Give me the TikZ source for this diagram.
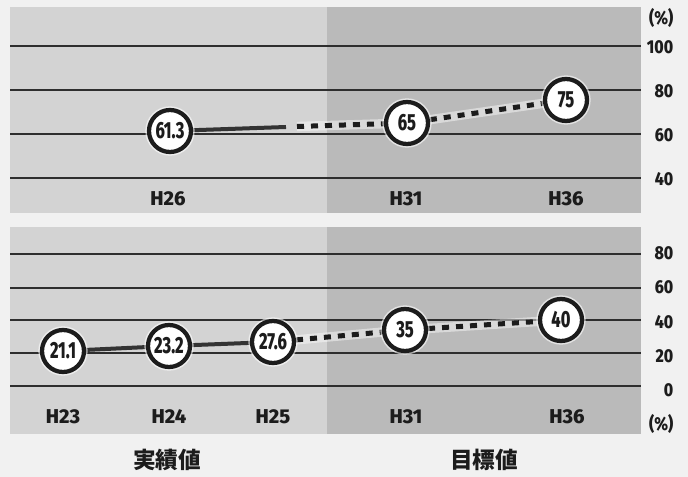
\documentclass[tikz,border=0pt]{standalone}
\usepackage{fontspec}
\setmainfont{Fira Sans}[BoldFont={Fira Sans ExtraBold}]
\newfontfamily\cond{Fira Sans ExtraBold}[FakeStretch=0.7]
\newfontfamily\semicond{Fira Sans ExtraBold}[FakeStretch=0.85]
\newfontfamily\jp{Noto Sans CJK JP}
\definecolor{pagebg}{HTML}{F1F1F1}
\definecolor{lightpanel}{HTML}{D3D3D3}
\definecolor{darkpanel}{HTML}{BABABA}
\definecolor{ink}{HTML}{1C1C1C}
\definecolor{gridc}{HTML}{2E2E2E}
\pgfdeclarelayer{bg}
\pgfdeclarelayer{lines}
\pgfsetlayers{bg,lines,main}
\tikzset{
  val/.style={circle, draw=ink, fill=white, line width=3.2pt, minimum size=31.5pt, inner sep=0pt,
    font=\cond\fontsize{17.5}{17.5}\selectfont, text=ink,
    preaction={draw=white, line width=5.5pt, draw opacity=0.6}},
  yearlab/.style={font=\bfseries\fontsize{15}{15}\selectfont, text=ink},
  axlab/.style={anchor=east, font=\semicond\fontsize{14}{14}\selectfont, text=ink},
  jplab/.style={font=\jp\bfseries\fontsize{17}{17}\selectfont, text=ink},
  gridline/.style={draw=gridc, line width=0.9pt},
  solidcon/.style={draw=ink!90, line width=3pt},
  dashcon/.style={draw=ink, line width=3.75pt, dash pattern=on 5.25pt off 5.25pt,
    preaction={draw=white, line width=7pt, draw opacity=0.45, solid}},
}
\begin{document}
\begin{tikzpicture}[x=0.75pt, y=-0.75pt]
\useasboundingbox (0,0) rectangle (688,477);
\begin{pgfonlayer}{bg}
  \fill[pagebg] (0,0) rectangle (688,477);
  \fill[lightpanel] (10,7) rectangle (327,213);
  \fill[darkpanel] (327,7) rectangle (641,213);
  \fill[lightpanel] (10,227) rectangle (327,434);
  \fill[darkpanel] (327,227) rectangle (641,434);
  \foreach \yy in {46,90,134,178} \draw[gridline] (10,\yy) -- (641,\yy);
  \foreach \yy in {254,288,320,353,386} \draw[gridline] (10,\yy) -- (641,\yy);
\end{pgfonlayer}

% top chart
\node[val] (t613) at (170,131) {61.3};
\node[val] (t65) at (407,123) {65};
\node[val] (t75) at (566,100) {75};
\coordinate (ts1) at (286,127);
\coordinate (ts2) at (297,126.5);
\node[yearlab] (lH26) at (168,199) {H26};
\node[yearlab] (lH31a) at (406,199) {H31};
\node[yearlab] (lH36a) at (566,199) {H36};

% top axis
\node[axlab] (ap1) at (678,18) {(\%)};
\node[axlab] (a100) at (678,47) {100};
\node[axlab] (a80) at (678,91) {80};
\node[axlab] (a60) at (678,135) {60};
\node[axlab] (a40) at (678,179) {40};

% bottom chart
\node[val] (b211) at (63,351) {21.1};
\node[val] (b232) at (169,346) {23.2};
\node[val] (b276) at (273,342) {27.6};
\node[val] (b35) at (405,330) {35};
\node[val] (b40) at (561,320) {40};
\node[yearlab] (lH23) at (63,417) {H23};
\node[yearlab] (lH24) at (169,417) {H24};
\node[yearlab] (lH25) at (273,417) {H25};
\node[yearlab] (lH31b) at (406,417) {H31};
\node[yearlab] (lH36b) at (567,417) {H36};

% bottom axis
\node[axlab] (b80) at (678,253) {80};
\node[axlab] (b60) at (678,287) {60};
\node[axlab] (b40l) at (678,322) {40};
\node[axlab] (b20) at (678,356) {20};
\node[axlab] (b0) at (678,390) {0};
\node[axlab] (bp1) at (678,424) {(\%)};

% captions
\node[jplab] (jp1) at (167,460) {実績値};
\node[jplab] (jp2) at (484,460) {目標値};

\begin{pgfonlayer}{lines}
  \draw[solidcon] (t613) -- (ts1);
  \draw[dashcon] (ts2) -- (t65);
  \draw[dashcon] (t65) -- (t75);
  \draw[solidcon] (b211) -- (b232);
  \draw[solidcon] (b232) -- (b276);
  \draw[dashcon] (b276) -- (b35);
  \draw[dashcon] (b35) -- (b40);
\end{pgfonlayer}
\end{tikzpicture}
\end{document}
